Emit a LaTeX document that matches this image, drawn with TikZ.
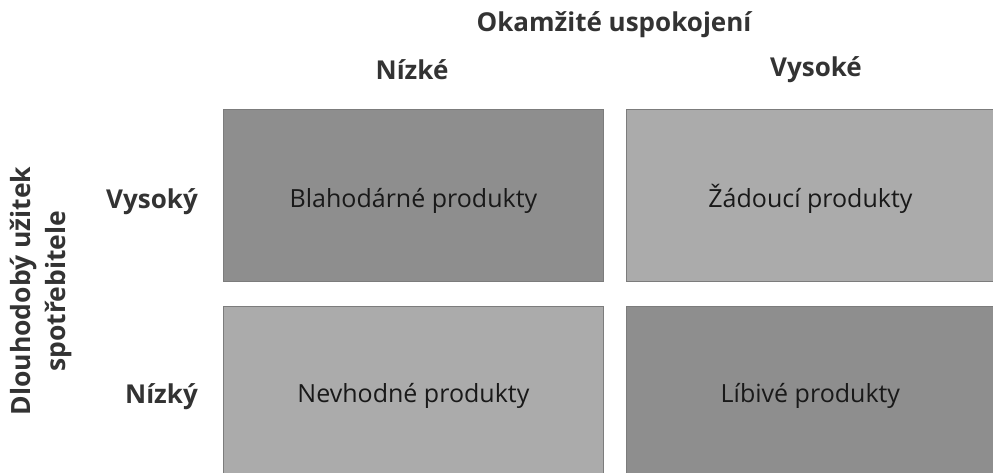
\documentclass[tikz,border=0pt]{standalone}
\usepackage{fontspec}
\setmainfont{Open Sans}
\begin{document}
\begin{tikzpicture}[x=1pt,y=-1pt,
  cell/.style={draw=edgegray,line width=0.8pt,minimum width=#1,anchor=north west,inner sep=0pt,
    text height=25pt,text depth=0pt,
    font=\fontsize{25}{30}\selectfont,text=black!90},
  darkcell/.style={cell=380pt,fill=cellgray},
  lightcell/.style={cell=380pt,fill=celllight},
  head/.style={font=\bfseries\fontsize{26}{30}\selectfont,text=black!80,inner sep=0pt},
  rowhead/.style={head,anchor=east}]
\definecolor{cellgray}{HTML}{8E8E8E}
\definecolor{celllight}{HTML}{ABABAB}
\definecolor{edgegray}{HTML}{7C7C7C}
\useasboundingbox (0,0) rectangle (993,472);
% quadrants
\node[darkcell,minimum height=172pt] (bl) at (223,109) {Blahodárné produkty};
\node[lightcell,minimum width=368pt,minimum height=172pt] (zd) at (626,109) {Žádoucí produkty};
\node[lightcell,minimum height=167pt] (nv) at (223,306) {Nevhodné produkty};
\node[darkcell,minimum width=368pt,minimum height=167pt] (lb) at (626,306) {Líbivé produkty};
% column headings
\node[head] (title) at (614,25) {Okamžité uspokojení};
\node[head] (low) at (412,70) {Nízké};
\node[head] (high) at (816,70) {Vysoké};
% row headings
\node[rowhead] (rhigh) at (198,202) {Vysoký};
\node[rowhead] (rlow) at (198,397) {Nízký};
\node[head,rotate=90,align=center,font=\bfseries\fontsize{26.5}{35}\selectfont] (axis) at (41,291)
  {Dlouhodobý užitek\\spotřebitele};
\end{tikzpicture}
\end{document}
